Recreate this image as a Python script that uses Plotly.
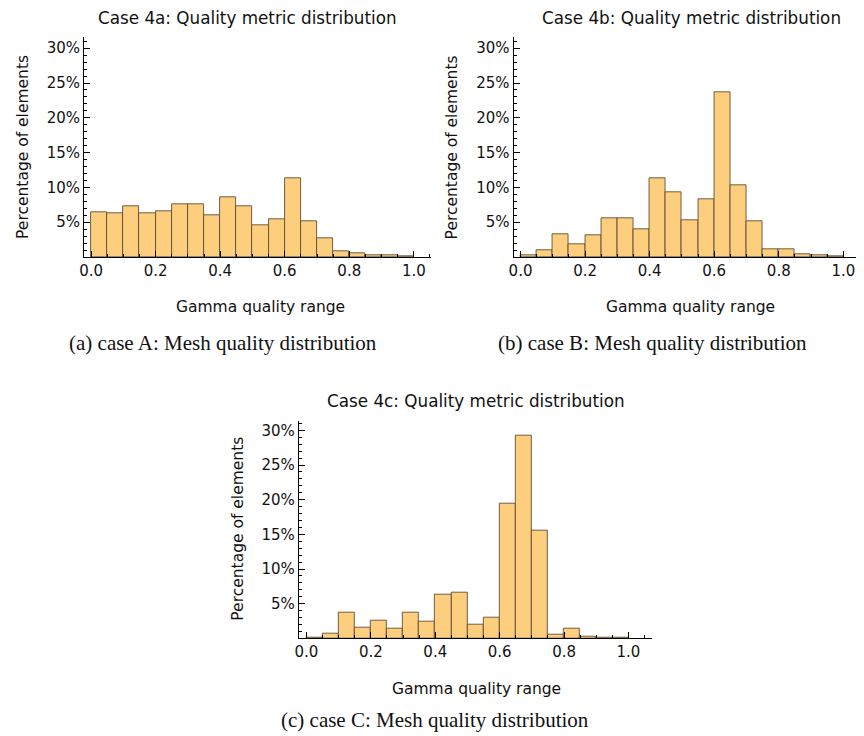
import plotly.graph_objects as go

bin_left = [round(0.05 * i, 2) for i in range(20)]
bin_width = 0.05

case_a = [6.37, 6.23, 7.23, 6.27, 6.61, 7.61, 7.57, 5.94, 8.62, 7.33,
          4.55, 5.41, 11.30, 5.08, 2.73, 0.81, 0.53, 0.24, 0.19, 0.05]
case_b = [0.24, 0.91, 3.26, 1.82, 3.16, 5.56, 5.56, 3.93, 11.30, 9.29,
          5.27, 8.29, 23.66, 10.30, 5.08, 1.15, 1.10, 0.38, 0.24, 0.10]
case_c = [0.10, 0.60, 3.75, 1.50, 2.55, 1.40, 3.65, 2.35, 6.30, 6.63,
          1.92, 3.03, 19.42, 29.20, 15.58, 0.48, 1.35, 0.29, 0.05, 0.05]

titles = ["Case 4a: Quality metric distribution",
          "Case 4b: Quality metric distribution",
          "Case 4c: Quality metric distribution"]
captions = ["(a) case A: Mesh quality distribution",
            "(b) case B: Mesh quality distribution",
            "(c) case C: Mesh quality distribution"]
x_title = "Gamma quality range"
y_title = "Percentage of elements"
x_tickvals = [0.0, 0.2, 0.4, 0.6, 0.8, 1.0]
x_ticktext = ["0.0", "0.2", "0.4", "0.6", "0.8", "1.0"]
y_tickvals = [5, 10, 15, 20, 25, 30]
y_ticktext = ["5%", "10%", "15%", "20%", "25%", "30%"]

# the page body has an 8px default margin; lay out relative to the page
OFF = 8
W, H = 864 - OFF, 736 - OFF
FILL = "rgb(252,206,126)"
EDGE = "rgba(90,70,45,0.85)"
SANS = "DejaVu Sans"
SERIF = "Liberation Serif"


def px(x):
    return (x - OFF) / W


def py(y):
    return 1 - (y - OFF) / H


# panel geometry in page pixels: (x_left, x_right, y_bottom, y_top, xrange, yrange)
panels = [
    (79.5, 428.5, 257.0, 37.3, [-0.0216, 1.0533], [0, 31.57]),
    (511.5, 862.0, 257.0, 37.3, [-0.0216, 1.0533 + 0.0046], [0, 31.57]),
    (295.5, 650.5, 638.3, 420.7, [-0.0238, 1.0724], [0, 31.4]),
]

fig = go.Figure()
data = [case_a, case_b, case_c]
centers = [b + bin_width / 2 for b in bin_left]

for i, vals in enumerate(data):
    sfx = "" if i == 0 else str(i + 1)
    fig.add_trace(go.Bar(
        x=centers, y=vals, width=bin_width,
        marker=dict(color=FILL, line=dict(color=EDGE, width=1)),
        xaxis="x" + sfx, yaxis="y" + sfx, showlegend=False,
    ))

axis_common = dict(
    showgrid=False, zeroline=False, showline=True, linecolor="black",
    linewidth=1, ticks="inside", tickcolor="black", fixedrange=True,
    tickfont=dict(family=SANS, size=15, color="#111"),
)

layout = {}
annotations = []
for i, (xl, xr, yb, yt, xr_, yr_) in enumerate(panels):
    sfx = "" if i == 0 else str(i + 1)
    layout["xaxis" + sfx] = dict(
        axis_common, domain=[px(xl), min(px(xr), 1.0)], range=xr_,
        anchor="y" + sfx, tickvals=x_tickvals, ticktext=x_ticktext,
        ticklen=6,
        minor=dict(dtick=0.05, tick0=0, ticks="inside", ticklen=3,
                   tickcolor="black", showgrid=False),
    )
    layout["yaxis" + sfx] = dict(
        axis_common, domain=[py(yb), py(yt)], range=yr_,
        anchor="x" + sfx, tickvals=y_tickvals, ticktext=y_ticktext,
        ticklen=6,
        minor=dict(dtick=1, tick0=0, ticks="inside", ticklen=3,
                   tickcolor="black", showgrid=False),
    )

# titles, axis titles, captions (page pixel positions)
title_pos = [(244, 18), (690, 18), (474, 401)]
xt_pos = [(257, 307), (689, 307), (474, 689)]
yt_pos = [(18, 147), (450, 147), (234, 529)]
cap_pos = [(219, 343), (651, 343), (432, 720)]

for i in range(3):
    tx, ty = title_pos[i]
    annotations.append(dict(x=px(tx), y=py(ty), xref="paper", yref="paper",
                            text=titles[i], showarrow=False,
                            font=dict(family=SANS, size=16.8, color="#111"),
                            xanchor="center", yanchor="middle"))
    ax, ay = xt_pos[i]
    annotations.append(dict(x=px(ax), y=py(ay), xref="paper", yref="paper",
                            text=x_title, showarrow=False,
                            font=dict(family=SANS, size=15.5, color="#111"),
                            xanchor="center", yanchor="middle"))
    vx, vy = yt_pos[i]
    annotations.append(dict(x=px(vx), y=py(vy), xref="paper", yref="paper",
                            text=y_title, showarrow=False, textangle=-90,
                            font=dict(family=SANS, size=15.5, color="#111"),
                            xanchor="center", yanchor="middle"))
    cx, cy = cap_pos[i]
    annotations.append(dict(x=px(cx), y=py(cy), xref="paper", yref="paper",
                            text=captions[i], showarrow=False,
                            font=dict(family=SERIF, size=21, color="#111"),
                            xanchor="center", yanchor="middle"))

fig.update_layout(
    width=W, height=H, margin=dict(l=0, r=0, t=0, b=0),
    paper_bgcolor="white", plot_bgcolor="white",
    bargap=0, annotations=annotations, **layout,
)

fig.write_html("out.html")
